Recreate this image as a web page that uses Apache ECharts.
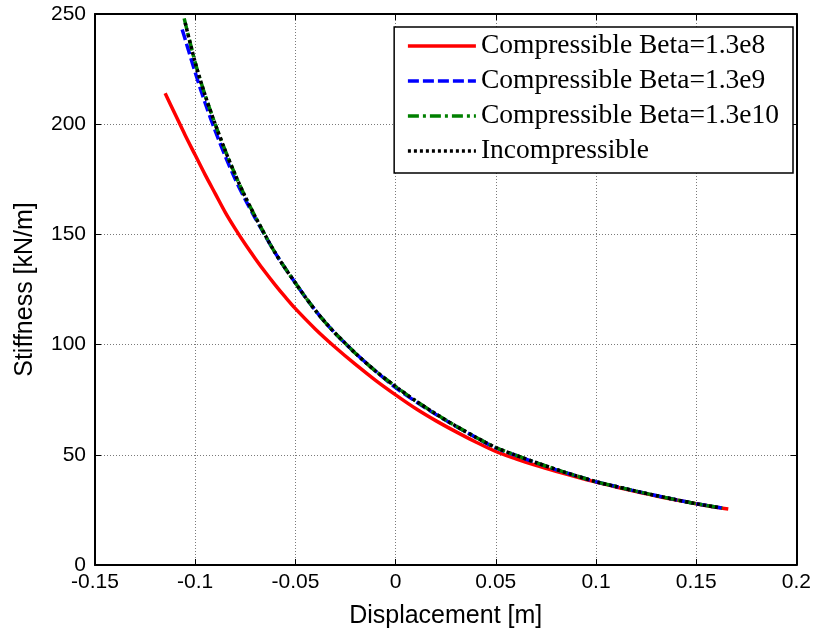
<!DOCTYPE html>
<html>
<head>
<meta charset="utf-8">
<script src="https://cdn.jsdelivr.net/npm/echarts@6/dist/echarts.min.js"></script>
<style>html,body{margin:0;padding:0;background:#fff}#c{width:814px;height:634px}</style>
</head>
<body>
<div id="c"></div>
<script>
// ---- data ----
const seriesNames = ['Compressible Beta=1.3e8', 'Compressible Beta=1.3e9', 'Compressible Beta=1.3e10', 'Incompressible'];

const redX = [-0.115,-0.11,-0.105,-0.1,-0.095,-0.09,-0.085,-0.08,-0.075,-0.07,-0.065,-0.06,-0.055,-0.05,-0.04,-0.03,-0.02,-0.01,0,0.01,0.02,0.03,0.04,0.05,0.06,0.07,0.08,0.09,0.1,0.11,0.12,0.13,0.14,0.15,0.16,0.166];
const redY = [214,204.5,195,186,177,168.5,160,152.5,145.5,139,132.8,127,121.5,116.3,107,98.7,91,83.8,77.2,71,65.5,60.5,55.8,51.5,48.2,45.2,42.5,40,37.6,35.4,33.3,31.3,29.5,27.8,26.2,25.4];

const blueX = [-0.1065,-0.105,-0.1,-0.095,-0.09,-0.085,-0.08,-0.075,-0.07,-0.065,-0.06,-0.055,-0.05,-0.045,-0.04,-0.035,-0.03,-0.025,-0.02,-0.01,0,0.01,0.02,0.03,0.04,0.05,0.06,0.07,0.08,0.09,0.1,0.11,0.12,0.13,0.14,0.15,0.163];
const blueY = [243,238.5,223.5,209.5,197,185.5,175,165.8,157.3,149.3,141.5,134.5,128,121.5,115.5,110,105,100.5,96,88,80.5,74.2,68.4,63,57.9,53.1,49.7,46.4,43.3,40.5,37.8,35.6,33.5,31.5,29.6,27.8,25.8];

const greenX = [-0.1055,-0.1,-0.095,-0.09,-0.085,-0.08,-0.075,-0.07,-0.065,-0.06,-0.055,-0.05,-0.045,-0.04,-0.035,-0.03,-0.025,-0.02,-0.01,0,0.01,0.02,0.03,0.04,0.05,0.06,0.07,0.08,0.09,0.1,0.11,0.12,0.13,0.14,0.15,0.163];
const greenY = [248,228,213,200,188,177,167,158,149.5,141.5,134.5,128,121.5,115.5,110,105,100.5,96,88,81,74.5,68.6,63.1,58,53.3,49.8,46.5,43.4,40.5,37.8,35.6,33.5,31.5,29.6,27.8,25.8];

const blackX = [-0.105,-0.1,-0.095,-0.09,-0.085,-0.08,-0.075,-0.07,-0.065,-0.06,-0.055,-0.05,-0.045,-0.04,-0.035,-0.03,-0.025,-0.02,-0.01,0,0.01,0.02,0.03,0.04,0.05,0.06,0.07,0.08,0.09,0.1,0.11,0.12,0.13,0.14,0.15,0.162];
const blackY = [246,228,213,200,188,177,167,158,149.5,141.5,134.5,128,121.5,115.5,110,105,100.5,96,88,81,74.5,68.6,63.1,58,53.3,49.8,46.5,43.4,40.5,37.8,35.6,33.5,31.5,29.6,27.8,25.9];

const xTicks = [-0.15,-0.1,-0.05,0,0.05,0.1,0.15,0.2];
const yTicks = [0,50,100,150,200,250];
const xTitle = 'Displacement [m]';
const yTitle = 'Stiffness [kN/m]';
// ---------------------------------------

const pair = (xs, ys) => xs.map((x, i) => [x, ys[i]]);
const sans = "'Liberation Sans', Arial, sans-serif";
const serif = "'Liberation Serif', 'Times New Roman', serif";
const fmtX = v => { const r = Math.round(v * 100) / 100; return String(r); };

const chart = echarts.init(document.getElementById('c'), null, {renderer: 'canvas'});

const axisLine = {show: true, onZero: false, lineStyle: {color: '#000', width: 2}};
const tick = {show: true, inside: true, length: 6, lineStyle: {color: '#000', width: 1}};

const xMin = xTicks[0], xMax = xTicks[xTicks.length - 1], xInt = xTicks[1] - xTicks[0];
const yMin = yTicks[0], yMax = yTicks[yTicks.length - 1], yInt = yTicks[1] - yTicks[0];

const option = {
  backgroundColor: '#fff',
  animation: false,
  grid: {left: 95, right: 17, top: 14, bottom: 66, containLabel: false},
  legend: {
    orient: 'vertical',
    right: 21, top: 27,
    backgroundColor: '#fff',
    borderColor: '#000', borderWidth: 1.5,
    padding: [5, 14, 8, 12],
    itemWidth: 68, itemHeight: 14, itemGap: 7,
    itemStyle: {opacity: 0},
    lineStyle: {width: 3.5},
    textStyle: {fontFamily: serif, fontSize: 27.5, color: '#000', lineHeight: 28},
    data: seriesNames
  },
  xAxis: [{
    type: 'value', min: xMin, max: xMax, interval: xInt, position: 'bottom',
    name: xTitle, nameLocation: 'middle', nameGap: 39,
    nameTextStyle: {fontFamily: sans, fontSize: 25, color: '#000'},
    axisLine, axisTick: tick,
    axisLabel: {fontFamily: sans, fontSize: 21, color: '#000', margin: 7, formatter: fmtX},
    splitLine: {show: true, lineStyle: {color: '#7a7a7a', type: [1, 2], width: 1}}
  }, {
    type: 'value', min: xMin, max: xMax, interval: xInt, position: 'top',
    axisLine, axisTick: tick, axisLabel: {show: false}, splitLine: {show: false}
  }],
  yAxis: [{
    type: 'value', min: yMin, max: yMax, interval: yInt, position: 'left',
    name: yTitle, nameLocation: 'middle', nameGap: 57,
    nameTextStyle: {fontFamily: sans, fontSize: 25, color: '#000'},
    axisLine, axisTick: tick,
    axisLabel: {fontFamily: sans, fontSize: 21, color: '#000', margin: 9},
    splitLine: {show: true, lineStyle: {color: '#7a7a7a', type: [1, 2], width: 1}}
  }, {
    type: 'value', min: yMin, max: yMax, interval: yInt, position: 'right',
    axisLine, axisTick: tick, axisLabel: {show: false}, splitLine: {show: false}
  }],
  series: [
    {name: seriesNames[0], type: 'line', data: pair(redX, redY), symbol: 'none', smooth: 0.3,
     lineStyle: {color: '#ff0000', width: 3.5, type: 'solid'}, itemStyle: {color: '#ff0000'}},
    {name: seriesNames[1], type: 'line', data: pair(blueX, blueY), symbol: 'none', smooth: 0.3,
     lineStyle: {color: '#0000ff', width: 3.5, type: [11, 4]}, itemStyle: {color: '#0000ff'}},
    {name: seriesNames[2], type: 'line', data: pair(greenX, greenY), symbol: 'none', smooth: 0.3,
     lineStyle: {color: '#008000', width: 3.5, type: [11, 4, 3, 4]}, itemStyle: {color: '#008000'}},
    {name: seriesNames[3], type: 'line', data: pair(blackX, blackY), symbol: 'none', smooth: 0.3,
     lineStyle: {color: '#000000', width: 3.5, type: [3, 3]}, itemStyle: {color: '#000000'}}
  ]
};
chart.setOption(option);
</script>
</body>
</html>
